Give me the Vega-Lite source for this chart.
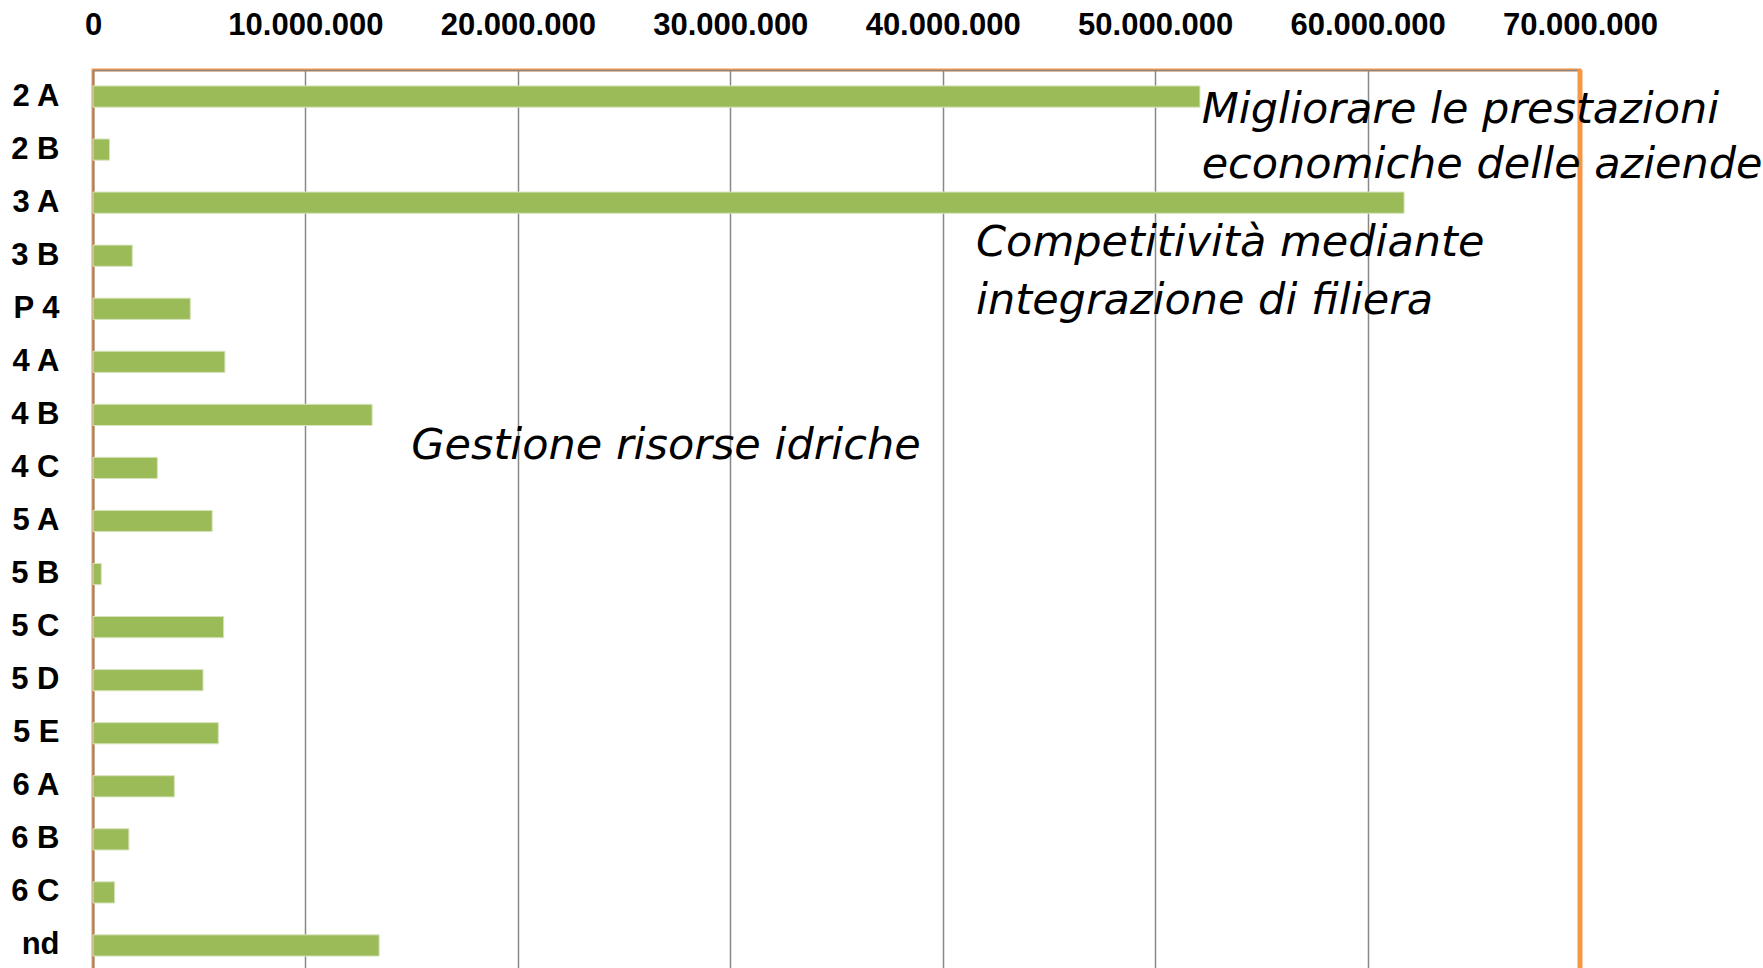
{
  "$schema": "https://vega.github.io/schema/vega-lite/v6.json",
  "width": 1487,
  "height": 902,
  "autosize": {"type": "none"},
  "padding": {"left": 93, "top": 70, "right": 183, "bottom": 0},
  "background": "white",
  "config": {
    "locale": {"number": {"decimal": ",", "thousands": ".", "grouping": [3], "currency": ["€", ""]}},
    "view": {"stroke": "#F79646", "strokeWidth": 3},
    "font": "Liberation Sans"
  },
  "datasets": {
    "bars": [
      {"misura": "2 A", "importo": 52110000},
      {"misura": "2 B", "importo": 780000},
      {"misura": "3 A", "importo": 61720000},
      {"misura": "3 B", "importo": 1850000},
      {"misura": "P 4", "importo": 4580000},
      {"misura": "4 A", "importo": 6210000},
      {"misura": "4 B", "importo": 13140000},
      {"misura": "4 C", "importo": 3030000},
      {"misura": "5 A", "importo": 5610000},
      {"misura": "5 B", "importo": 390000},
      {"misura": "5 C", "importo": 6150000},
      {"misura": "5 D", "importo": 5180000},
      {"misura": "5 E", "importo": 5900000},
      {"misura": "6 A", "importo": 3830000},
      {"misura": "6 B", "importo": 1690000},
      {"misura": "6 C", "importo": 1020000},
      {"misura": "nd", "importo": 13470000}
    ],
    "notes": [
      {"testo": "Migliorare le prestazioni", "x": 52190000, "riga": 0.99},
      {"testo": "economiche delle aziende", "x": 52190000, "riga": 2.04},
      {"testo": "Competitività mediante", "x": 41570000, "riga": 3.51},
      {"testo": "integrazione di filiera", "x": 41570000, "riga": 4.6},
      {"testo": "Gestione risorse idriche", "x": 14980000, "riga": 7.33}
    ],
    "bordo": [{"limite": 70000000}]
  },
  "layer": [
    {
      "data": {"name": "bars"},
      "mark": {"type": "bar", "color": "#9BBB59", "stroke": "#D7E4BD", "strokeWidth": 1},
      "encoding": {
        "y": {
          "field": "misura",
          "type": "nominal",
          "sort": ["2 A", "2 B", "3 A", "3 B", "P 4", "4 A", "4 B", "4 C", "5 A", "5 B", "5 C", "5 D", "5 E", "6 A", "6 B", "6 C", "nd"],
          "scale": {"paddingInner": 0.6, "paddingOuter": 0.3},
          "axis": {
            "title": null,
            "ticks": false,
            "domainColor": "#888888",
            "domainWidth": 1.5,
            "labelFont": "Liberation Sans",
            "labelFontWeight": "bold",
            "labelFontSize": 31,
            "labelColor": "#000000",
            "labelPadding": 34,
            "labelAlign": "right"
          }
        },
        "x": {
          "field": "importo",
          "type": "quantitative",
          "scale": {"domain": [0, 70000000], "nice": false},
          "axis": {
            "orient": "top",
            "title": null,
            "values": [0, 10000000, 20000000, 30000000, 40000000, 50000000, 60000000, 70000000],
            "format": ",d",
            "ticks": false,
            "grid": true,
            "gridColor": "#888888",
            "gridWidth": 1.5,
            "domainColor": "#888888",
            "domainWidth": 1.5,
            "labelFont": "Liberation Sans",
            "labelFontSize": 31,
            "labelFontWeight": "bold",
            "labelColor": "#000000",
            "labelPadding": 45,
            "labelBaseline": "middle",
            "labelFlush": false,
            "labelOverlap": false
          }
        }
      }
    },
    {
      "data": {"name": "bordo"},
      "mark": {"type": "rule", "color": "#F79646", "strokeWidth": 5},
      "encoding": {
        "x": {"field": "limite", "type": "quantitative"}
      }
    },
    {
      "data": {"name": "notes"},
      "mark": {"type": "text", "align": "left", "baseline": "alphabetic", "font": "DejaVu Sans", "fontStyle": "italic", "fontSize": 43, "color": "#000000"},
      "encoding": {
        "x": {"field": "x", "type": "quantitative"},
        "y": {"field": "riga", "type": "quantitative", "scale": {"domain": [0, 17], "nice": false, "zero": false, "reverse": true}, "axis": null},
        "text": {"field": "testo"}
      }
    }
  ],
  "resolve": {"scale": {"y": "independent"}}
}
